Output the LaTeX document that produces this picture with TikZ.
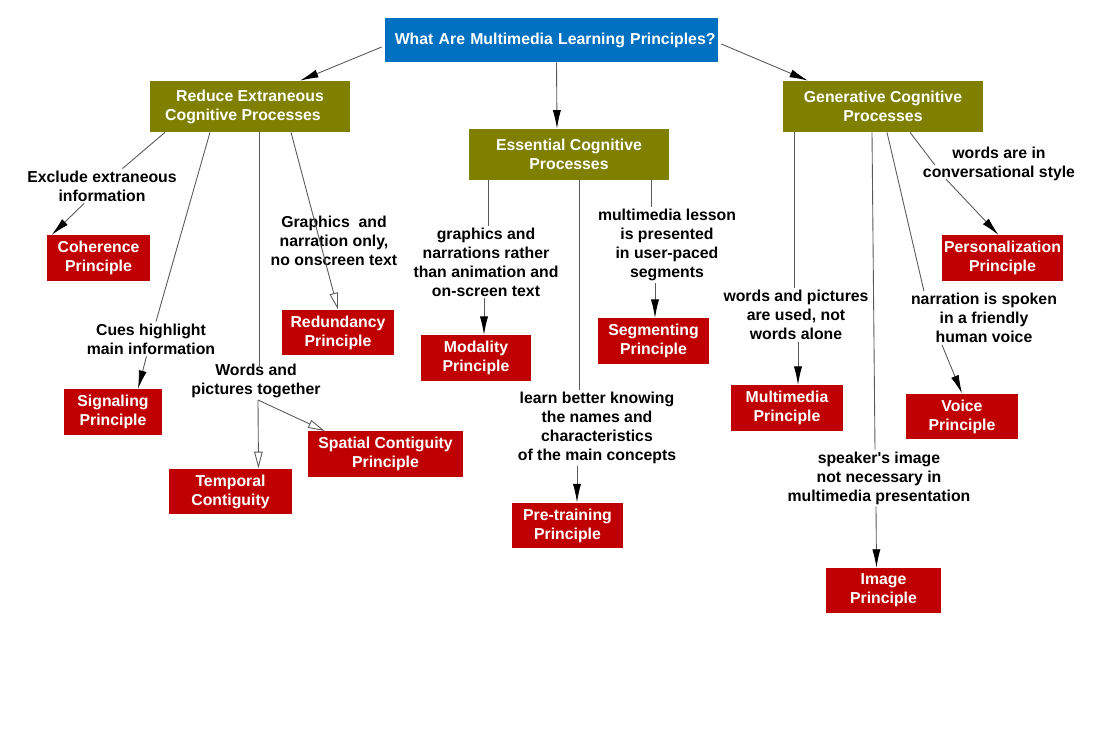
\documentclass[tikz,border=0pt]{standalone}
\usepackage{fontspec}
\setmainfont{Liberation Sans}
\usetikzlibrary{arrows.meta,calc}

\definecolor{rootblue}{RGB}{0,112,192}
\definecolor{procolive}{RGB}{128,128,0}
\definecolor{prinred}{RGB}{192,0,0}

\begin{document}
\begin{tikzpicture}[x=0.02cm,y=-0.02cm,
    font=\fontsize{9}{10.8}\selectfont\bfseries,
    root/.style={fill=rootblue,text=white,text width=6.56cm,align=right,inner xsep=0.05cm,minimum height=0.88cm},
    proc/.style={fill=procolive,text=white,align=center,minimum width=4cm,minimum height=1.02cm},
    prin/.style={fill=prinred,text=white,align=center,inner xsep=1pt,minimum width={#1*0.02cm},minimum height=0.84cm},
    lbl/.style={align=center,inner sep=1pt},
    link/.style={draw=black!65,line width=0.5pt},
    arr/.style={link,-{Latex[length=10.5pt,width=4.6pt,color=black]}},
    oarr/.style={link,-{Triangle[open,length=9.5pt,width=4.8pt,fill=white]}}]

  \useasboundingbox (0,0) rectangle (1100,733);

  % main boxes
  \node[root] (root) at (551.5,40) {What Are Multimedia Learning Principles?};
  \node[proc] (reduce) at (250,106.5) {Reduce Extraneous\\Cognitive Processes\hspace*{8pt}};
  \node[proc] (ess) at (569,154.5) {Essential Cognitive\\Processes};
  \node[proc] (gen) at (883,106.5) {Generative Cognitive\\Processes};

  % principles
  \node[prin=103] (coher) at (98.5,258) {Coherence\\Principle};
  \node[prin=98] (signal) at (113,412) {Signaling\\Principle};
  \node[prin=112] (redund) at (338,332.5) {Redundancy\\Principle};
  \node[prin=123] (tempo) at (230.5,491.5) {Temporal\\Contiguity};
  \node[prin=155] (spatial) at (385.5,454) {Spatial Contiguity\\Principle};
  \node[prin=110] (modal) at (476,358) {Modality\\Principle};
  \node[prin=111] (segm) at (653.5,341) {Segmenting\\Principle};
  \node[prin=111] (pretr) at (567.5,525.5) {Pre-training\\Principle};
  \node[prin=117] (person) at (1002.5,258) {Personalization\\Principle};
  \node[prin=112] (multi) at (787,408) {Multimedia\\Principle};
  \node[prin=112] (voice) at (962,416.5) {Voice\\Principle};
  \node[prin=115] (image) at (883.5,590.5) {Image\\Principle};

  % linking phrases
  \node[lbl] (lexcl) at (102,186) {Exclude extraneous\\information};
  \node[lbl] (lcues) at (151,339) {Cues highlight\\main information};
  \node[lbl] (lgraph) at (334,241) {Graphics\ \ and\\narration only,\\no onscreen text};
  \node[lbl] (lwords) at (256,381) {Words and\\pictures together};
  \node[lbl] (lgr) at (486,262) {graphics and\\narrations rather\\than animation and\\on-screen text};
  \node[lbl] (lseg) at (667,245) {multimedia lesson\\is presented\\in user-paced\\segments};
  \node[lbl] (llearn) at (597,428) {learn better knowing\\the names and\\characteristics\\of the main concepts};
  \node[lbl] (lconv) at (999,164) {words are in\\conversational style};
  \node[lbl] (lwp) at (796,315) {words and pictures\\are used, not\\words alone};
  \node[lbl] (lnar) at (984,318) {narration is spoken\\in a friendly\\human voice};
  \node[lbl] (lspk) at (879,478) {speaker\textquotesingle s image\\not necessary in\\multimedia presentation};

  % top level
  \draw[arr] ($(root.west)+(-3,7)$) -- ($(reduce.north)+(50,0)$);
  \draw[arr] ($(root.south)+(5,0)$) -- ($(ess.north)+(-12,0)$);
  \draw[arr] ($(root.east)+(3,4)$) -- ($(gen.north)+(-75,0)$);

  % extraneous
  \draw[link] ($(reduce.south)+(-85,0)$) -- (lexcl);
  \draw[arr] (lexcl) -- ($(coher.north west)+(5,0)$);
  \draw[link] ($(reduce.south)+(-40,0)$) -- (lcues);
  \draw[arr] (lcues) -- ($(signal.north)+(25,0)$);
  \draw[oarr] ($(reduce.south)+(41,0)$) -- (redund.north);
  \draw[link] ($(reduce.south)+(9,0)$) -- ($(lwords.north)+(3,6)$);
  \draw[oarr] ($(lwords.south)+(2,0)$) -- ($(tempo.north)+(28,0)$);
  \draw[oarr] ($(lwords.south)+(2,0)$) -- ($(spatial.north west)+(17,0)$);

  % essential
  \draw[link] ($(ess.south)+(-81,0)$) coordinate (e1) -- (e1 |- lgr.north);
  \draw[arr] ($(lgr.south)+(-2,0)$) coordinate (e2) -- (e2 |- modal.north);
  \draw[link] ($(ess.south)+(10,0)$) coordinate (e3) -- (e3 |- llearn.north);
  \draw[arr] ($(llearn.south)+(-20,0)$) coordinate (e4) -- (e4 |- pretr.north);
  \draw[link] ($(ess.south)+(82,0)$) coordinate (e5) -- (e5 |- lseg.north);
  \draw[arr] ($(lseg.south)+(-12,0)$) coordinate (e6) -- (e6 |- segm.north);

  % generative
  \draw[link] ($(gen.south)+(-89,0)$) coordinate (g1) -- (g1 |- lwp.north);
  \draw[arr] ($(lwp.south)+(2,0)$) coordinate (g2) -- (g2 |- multi.north);
  \draw[link] ($(gen.south)+(-11,0)$) -- ($(lspk.north)+(-4,0)$);
  \draw[arr] ($(lspk.south)+(-3,0)$) -- ($(image.north)+(-7,0)$);
  \draw[link] ($(gen.south)+(4,0)$) -- ($(lnar.north west)+(15,0)$);
  \draw[arr] ($(lnar.south west)+(33,0)$) -- (voice.north);
  \draw[link] ($(gen.south)+(27,0)$) -- ($(lconv.west)+(14,1)$);
  \draw[arr] ($(lconv.south west)+(25,-4)$) -- ($(person.north)+(-4,0)$);

\end{tikzpicture}
\end{document}
